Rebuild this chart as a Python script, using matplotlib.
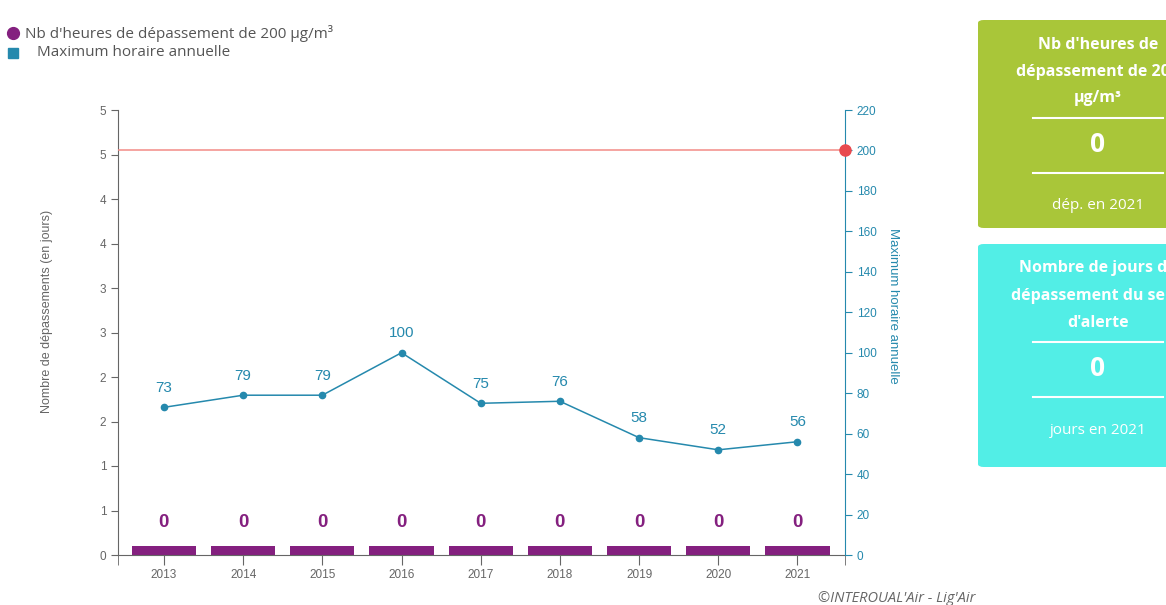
import matplotlib
matplotlib.use('Agg')
import matplotlib.pyplot as plt
from matplotlib.patches import FancyBboxPatch, Rectangle
from matplotlib.lines import Line2D
import numpy as np

# données
years = ['2013', '2014', '2015', '2016', '2017', '2018', '2019', '2020', '2021']
nb_depassements = [0, 0, 0, 0, 0, 0, 0, 0, 0]
max_horaire = [73, 79, 79, 100, 75, 76, 58, 52, 56]
seuil = 200
left_ticks = [0, 0.5, 1, 1.5, 2, 2.5, 3, 3.5, 4, 4.5, 5]
right_ticks = [0, 20, 40, 60, 80, 100, 120, 140, 160, 180, 200, 220]

purple = '#84207f'
teal = '#2589ad'
grey = '#666666'
red_line = '#f28b86'
red_dot = '#e84a4f'

W, H = 1166, 605
fig = plt.figure(figsize=(W / 100, H / 100), dpi=100)
ax = fig.add_axes([118 / W, 1 - 555 / H, (845 - 118) / W, (555 - 110) / H])
ax2 = ax.twinx()

x = np.arange(len(years))
min_bar = 0.1  # hauteur minimale affichée pour les barres nulles
bar_h = [max(v, min_bar) for v in nb_depassements]
ax.bar(x, bar_h, width=0.81, color=purple, zorder=2)
for xi, v in zip(x, nb_depassements):
    ax.text(xi, 0.36, str(v), ha='center', va='center', color=purple,
            fontsize=13.5, fontweight='bold', family='Liberation Sans')

ax.set_xlim(-0.58, 8.6)
ax.set_ylim(0, 5)
ax.set_yticks(left_ticks)
ax.set_yticklabels([str(int(np.floor(t + 0.5))) for t in left_ticks])
ax.set_xticks(x)
ax.set_xticklabels(years)
ax.set_xticks([-0.58, 8.6], minor=True)
ax.tick_params(axis='x', which='both', length=7, color=grey, labelsize=8.5,
               labelcolor=grey, pad=3)
ax.tick_params(axis='y', length=5, color=grey, labelsize=8.5, labelcolor=grey)
for lab in ax.get_xticklabels() + ax.get_yticklabels():
    lab.set_family('Liberation Sans')
ax.set_ylabel('Nombre de dépassements (en jours)', fontsize=9, color=grey,
              family='Liberation Sans', va='center')
ax.yaxis.set_label_coords((47 - 118) / 727, (555 - 311) / 445)
ax.spines['top'].set_visible(False)
ax.spines['right'].set_visible(False)
ax.spines['left'].set_color(grey)
ax.spines['bottom'].set_color(grey)

ax2.set_ylim(0, 220)
ax2.set_yticks(right_ticks)
ax2.tick_params(axis='y', length=5, color=teal, labelsize=8.5, labelcolor=teal)
for lab in ax2.get_yticklabels():
    lab.set_family('Liberation Sans')
ax2.spines['right'].set_color(teal)
ax2.spines['top'].set_visible(False)
ax2.spines['left'].set_visible(False)
ax2.spines['bottom'].set_visible(False)
ax2.set_ylabel('Maximum horaire annuelle', fontsize=9.5, color=teal,
               family='Liberation Sans', rotation=-90, va='center')
ax2.yaxis.set_label_coords((893 - 118) / 727, (555 - 306) / 445)

ax2.plot(x, max_horaire, color=teal, lw=1.1, marker='o', ms=4.5, zorder=3)
for xi, v in zip(x, max_horaire):
    ax2.annotate(str(v), (xi, v), xytext=(0, 9), textcoords='offset points',
                 ha='center', va='bottom', color=teal, fontsize=11,
                 family='Liberation Sans')

ax2.axhline(seuil, color=red_line, lw=1.1, zorder=1)
ax2.plot([8.6], [seuil], 'o', color=red_dot, ms=8, clip_on=False, zorder=4)

# légende
fig.add_artist(Line2D([13 / W], [1 - 33 / H], marker='o', ms=8.5, color=purple,
                      transform=fig.transFigure))
fig.patches.append(Rectangle((8 / W, 1 - 58 / H), 10 / W, 10 / H,
                             transform=fig.transFigure, color=teal))
fig.text(25 / W, 1 - 33 / H, "Nb d'heures de dépassement de 200 µg/m³",
         fontsize=11, color='#555555', family='Open Sans', va='center')
fig.text(37 / W, 1 - 52 / H, 'Maximum horaire annuelle',
         fontsize=11, color='#555555', family='Open Sans', va='center')

fig.text(975 / W, 1 - 599 / H, "©INTEROUAL'Air - Lig'Air", fontsize=10.5,
         color=grey, family='Open Sans', style='italic', ha='right', va='center')

# cartes
cards = [
    dict(color='#a9c639', y0=20, y1=228,
         title=["Nb d'heures de", 'dépassement de 200', 'µg/m³'],
         title_y=[45, 72, 98], lines=[118, 173], val_y=145, value='0',
         foot='dép. en 2021', foot_y=206),
    dict(color='#52eee6', y0=244, y1=467,
         title=['Nombre de jours de', 'dépassement du seuil', "d'alerte"],
         title_y=[268, 296, 323], lines=[342, 397], val_y=369, value='0',
         foot='jours en 2021', foot_y=431),
]
cx = 1098
for c in cards:
    box = FancyBboxPatch((978 / W, 1 - c['y1'] / H), 240 / W,
                         (c['y1'] - c['y0']) / H,
                         boxstyle='round,pad=0,rounding_size=0.005',
                         transform=fig.transFigure, fc=c['color'], ec='none')
    fig.patches.append(box)
    for t, ty in zip(c['title'], c['title_y']):
        fig.text(cx / W, 1 - ty / H, t, ha='center', va='center', color='white',
                 fontsize=11.5, fontweight='bold', family='Open Sans')
    for ly in c['lines']:
        fig.add_artist(Line2D([1033 / W, 1163 / W], [1 - ly / H, 1 - ly / H],
                              transform=fig.transFigure, color='white', lw=1.5))
    fig.text(cx / W, 1 - c['val_y'] / H, c['value'], ha='center', va='center',
             color='white', fontsize=19, fontweight='bold', family='Open Sans')
    fig.text(cx / W, 1 - c['foot_y'] / H, c['foot'], ha='center', va='center',
             color='white', fontsize=11, family='Open Sans')

fig.savefig('out.png', dpi=100)
